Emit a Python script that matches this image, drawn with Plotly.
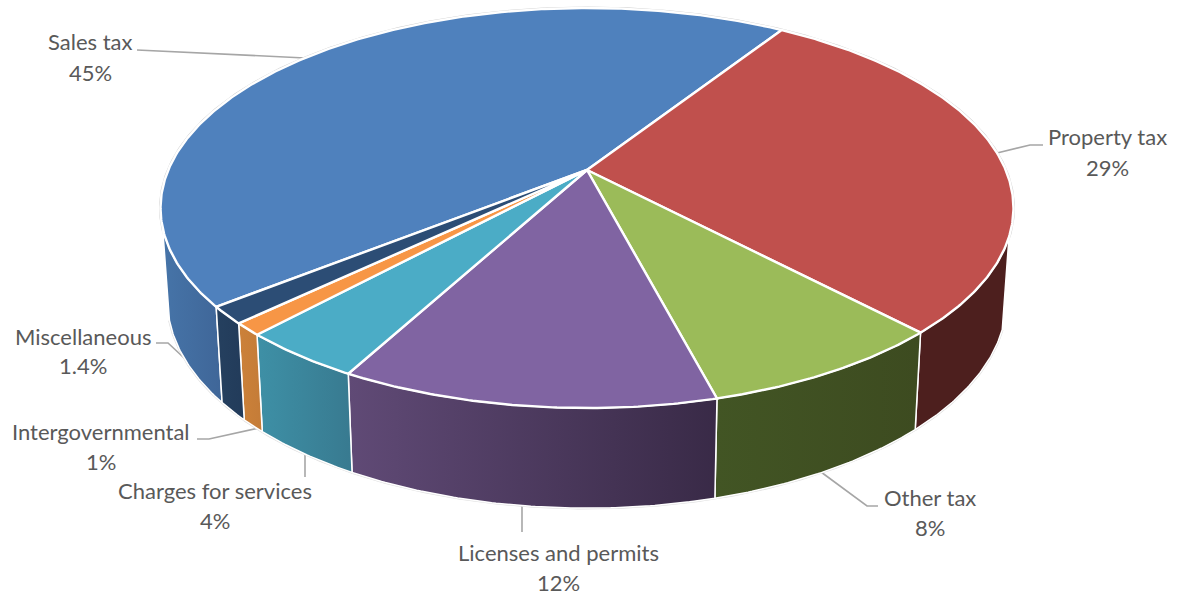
import numpy as np
import plotly.graph_objects as go

# Revenue shares, in clockwise drawing order
categories = ["Sales tax", "Property tax", "Other tax", "Licenses and permits",
              "Charges for services", "Intergovernmental", "Miscellaneous"]
shares = [45, 29, 8, 12, 4, 1, 1.4]
share_labels = ["45%", "29%", "8%", "12%", "4%", "1%", "1.4%"]

top_colors = ["#4f81bd", "#c0504d", "#9bbb59", "#8064a2", "#4bacc6", "#f79646", "#2c4d75"]
wall_colors = [("#4674a8", "#3f6698"), ("#4d1f1e", "#4d1f1e"), ("#425524", "#3d4b20"),
               ("#604a76", "#392a47"), ("#3e90a6", "#387a90"), ("#cc8139", "#c47c38"),
               ("#25405f", "#223b5a")]

# Disc projection: perspective-foreshortened circles for the lid and the base
LID = dict(cx=587, cy=170, a=418.7, b=192.8, p=0.19)
BASE = dict(cx=587, cy=260, a=412, b=201, p=0.19)
START_ANGLE = 231.3
VISIBLE_FROM, VISIBLE_TO = 109, 253.5  # walls that face the viewer


def project(disc, theta_deg):
    t = np.radians(np.asarray(theta_deg, dtype=float))
    u, v = np.sin(t), np.cos(t)
    w = 1 + disc["p"] * v
    return disc["cx"] + disc["a"] * u / w, disc["cy"] - disc["b"] * v / w


def arc(lo, hi):
    return np.linspace(lo, hi, max(2, int((hi - lo) * 2) + 1))


scale = 360 / sum(shares)
edges = START_ANGLE + np.concatenate([[0], np.cumsum(shares)]) * scale

GREY = "#a6a6a6"
TEXT = "#595959"
fig = go.Figure()


def polyline(xs, ys, color, width):
    fig.add_trace(go.Scatter(x=xs, y=ys, mode="lines", line=dict(color=color, width=width),
                             hoverinfo="skip", showlegend=False))


# Leader lines sit behind the pie
leaders = [
    ([137, 305], [50, 58]),
    ([1043, 1030, 997], [145, 145, 153]),
    ([821, 867, 878], [472, 506, 506]),
    ([522, 522], [505, 532]),
    ([305, 305], [450, 477]),
    ([197, 209, 259], [439, 439, 428]),
    ([156, 168, 253], [343, 343, 422]),
]
for xs, ys in leaders:
    polyline(xs, ys, GREY, 1.6)

# Soft outer rim around the lid and the base
rx, ry = project(LID, arc(0, 360))
polyline(rx, ry, "#cfcfcf", 3)
bx, by = project(BASE, arc(VISIBLE_FROM, VISIBLE_TO))
polyline(bx, by, "#dedede", 2.6)

# Side walls
for i, (c0, c1) in enumerate(wall_colors):
    lo = (edges[i] + 0) % 360
    hi = lo + (edges[i + 1] - edges[i])
    lo, hi = max(lo, VISIBLE_FROM), min(hi, VISIBLE_TO)
    if lo >= hi:
        continue
    th = arc(lo, hi)
    tx, ty = project(LID, th)
    ux, uy = project(BASE, th[::-1])
    fig.add_trace(go.Scatter(
        x=np.r_[tx, ux, tx[0]], y=np.r_[ty, uy, ty[0]], mode="lines", fill="toself",
        line=dict(color="white", width=1.5),
        fillgradient=dict(type="horizontal", colorscale=[[0, c0], [1, c1]]),
        hoverinfo="skip", showlegend=False))

# Lid wedges
for i, color in enumerate(top_colors):
    th = arc(edges[i], edges[i + 1])
    tx, ty = project(LID, th)
    fig.add_trace(go.Scatter(
        x=np.r_[LID["cx"], tx, LID["cx"]], y=np.r_[LID["cy"], ty, LID["cy"]],
        mode="lines", fill="toself", fillcolor=color,
        line=dict(color="white", width=2.4),
        hoverinfo="skip", showlegend=False))

# Category and value labels
name_xy = [(90, 41), (1107, 136), (930, 497), (558, 552), (215, 490), (101, 431), (83, 336)]
value_xy = [(90, 72), (1107, 167), (930, 527), (558, 582), (215, 520), (101, 461), (83, 365)]
for name, value, (nx, ny), (vx, vy) in zip(categories, share_labels, name_xy, value_xy):
    for text, x, y in ((name, nx, ny), (value, vx, vy)):
        fig.add_annotation(x=x, y=y, text=text, showarrow=False, xanchor="center", yanchor="middle",
                           font=dict(family="Lato", size=22, color=TEXT))

fig.update_layout(
    width=1177, height=597, margin=dict(l=0, r=0, t=0, b=0),
    paper_bgcolor="white", plot_bgcolor="white", showlegend=False,
    xaxis=dict(range=[0, 1177], visible=False, fixedrange=True),
    yaxis=dict(range=[597, 0], visible=False, fixedrange=True),
)
fig.write_html("out.html", config=dict(displayModeBar=False))
